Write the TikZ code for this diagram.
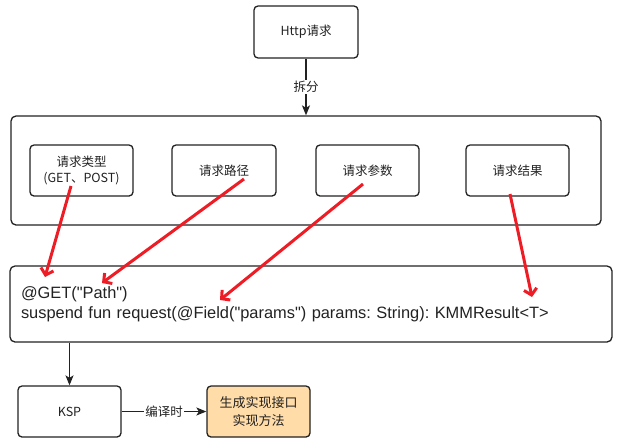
\documentclass[tikz,border=0pt]{standalone}
\usepackage{fontspec}
\setmainfont{Liberation Sans}[Ligatures=TeXOff]
\newfontfamily\cjk{Noto Sans CJK SC}
\usetikzlibrary{arrows.meta}
\definecolor{boxline}{HTML}{222222}
\definecolor{orangefill}{HTML}{FFDCA8}
\definecolor{redarrow}{HTML}{EE1C25}
\frenchspacing
\begin{document}
\begin{tikzpicture}[x=1pt,y=-1pt,
  box/.style={draw=boxline, line width=1.3pt, rounded corners=4pt,
    minimum width=103pt, minimum height=51pt, inner sep=0pt, align=center,
    text=boxline, font=\cjk\fontsize{12.5}{16}\selectfont},
  frame/.style={draw=boxline, line width=1.3pt, rounded corners=5pt,
    minimum width=590pt, minimum height=109pt, inner sep=0pt},
  codebox/.style={draw=boxline, line width=1.3pt, rounded corners=5pt,
    minimum height=76pt, inner xsep=11pt, inner ysep=0pt, text width=580pt,
    align=left, text=boxline, font=\fontsize{16.4}{20}\selectfont},
  conn/.style={draw=boxline, line width=1.3pt,
    -{Stealth[length=10pt,width=8pt,inset=2.5pt]}},
  redconn/.style={draw=redarrow, line width=3pt,
    -{Straight Barb[length=6pt,width=13pt]}},
  lbl/.style={fill=white, inner sep=1.5pt, text=boxline,
    font=\cjk\fontsize{12.5}{15}\selectfont}
]
\useasboundingbox (0,0) rectangle (623,445);

\node[box, minimum width=104pt, minimum height=52pt] (http) at (306,32) {Http请求};
\node[frame] (group) at (306,170.5) {};
\node[box] (t1) at (81.5,170.5) {请求类型\\(GET、POST)};
\node[box, minimum width=104pt] (t2) at (224,170.5) {请求路径};
\node[box] (t3) at (367.5,170.5) {请求参数};
\node[box] (t4) at (517.5,170.5) {请求结果};

\node[codebox] (code) at (311,304) {@GET("Path")\\suspend fun request(@Field("params") params: String): KMMResult<T>};

\node[box] (ksp) at (69.5,411.5) {KSP};
\node[box, fill=orangefill, font=\cjk\fontsize{13}{18}\selectfont] (gen) at (258.5,411.5) {生成实现接口\\实现方法};

\draw[conn] (http.south) -- node[lbl] {拆分} (group.north);
\draw[conn] (code.south -| ksp.north) -- (ksp.north);
\draw[conn] (ksp) -- node[lbl] {编译时} (gen);

\coordinate (r1s) at (71,186);
\coordinate (r1e) at (45,277);
\coordinate (r2s) at (244,179);
\coordinate (r2e) at (102,283);
\coordinate (r3s) at (363,184);
\coordinate (r3e) at (220,300);
\coordinate (r4s) at (510,194);
\coordinate (r4e) at (532,297);
\draw[redconn] (r1s) -- (r1e);
\draw[redconn] (r2s) -- (r2e);
\draw[redconn] (r3s) -- (r3e);
\draw[redconn] (r4s) -- (r4e);
\end{tikzpicture}
\end{document}
